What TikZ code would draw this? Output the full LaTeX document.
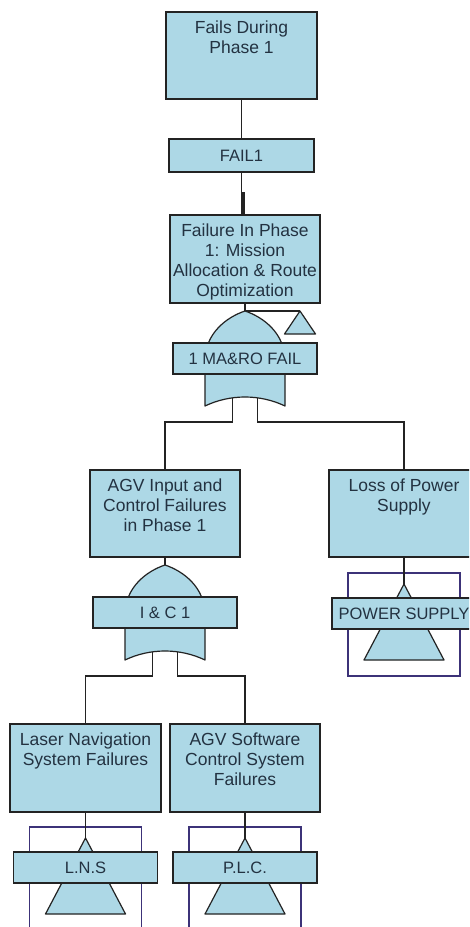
\documentclass[tikz,border=0pt]{standalone}
\usepackage{fontspec}
\setmainfont{Liberation Sans}
\usetikzlibrary{calc}

\definecolor{evfill}{RGB}{173,216,230}
\definecolor{evline}{RGB}{35,35,35}
\definecolor{evtext}{RGB}{35,50,65}
\definecolor{framecol}{RGB}{60,50,120}

\tikzset{
  evbox/.style={draw=evline, fill=evfill, line width=1.2pt, minimum width=150pt,
    minimum height=87pt, inner sep=0pt, outer sep=0pt, anchor=north},
  evtext/.style={anchor=north, inner sep=0pt, outer sep=0pt, align=center, text=evtext,
    font=\fontsize{17.5}{20}\selectfont},
  lblbox/.style={draw=evline, fill=evfill, line width=1.2pt, minimum width=144pt,
    minimum height=31pt, inner sep=0pt, outer sep=0pt, text=evtext,
    font=\fontsize{16.5}{18}\selectfont},
  wire/.style={draw=evline, line width=1.2pt},
  gateshape/.style={draw=evline, fill=evfill, line width=1.2pt, line join=round},
  frameline/.style={draw=framecol, line width=1.2pt},
  % OR gate with its label box; origin at the apex
  pics/orgate/.style={code={
    \path[gateshape] (-40,95) -- (-40,50) .. controls (-40,22) and (-18,6) .. (0,0)
      .. controls (18,6) and (40,22) .. (40,50) -- (40,95)
      .. controls (15,83) and (-15,83) .. (-40,95) -- cycle;
    \node[lblbox, anchor=north] (-lbl) at (0,32) {#1};
    \coordinate (-apex) at (0,0);
    \coordinate (-outL) at (-12.5,87);
    \coordinate (-outR) at (12.5,87);
    \coordinate (-bus) at (0,111);
  }},
  % transfer-in event inside its frame; origin at the frame's top centre
  pics/basicev/.style={code={
    \path[frameline] (-56,0) rectangle (56,103);
    \path[gateshape] (0,11) -- (40,87) -- (-40,87) -- cycle;
    \node[lblbox, anchor=north] (-lbl) at (0,25) {#1};
    \coordinate (-apex) at (0,11);
  }}
}

\begin{document}
\begin{tikzpicture}[x=1pt, y=-1pt]
  \clip (0,0) rectangle (469,927);
  \fill[white] (0,0) rectangle (469,927);

  % top event and its gate label
  \node[evbox, minimum width=151pt] (top) at (241.5,12) {};
  \node[evtext] (topT) at ($(top.north)+(0,8.5)$) {Fails During\\Phase 1};
  \node[lblbox, minimum width=145pt, minimum height=33pt, anchor=north,
        font=\fontsize{16.5}{18}\selectfont] (fail1) at (241.5,139) {FAIL1};

  % phase 1 event
  \node[evbox, minimum height=88pt] (fip) at (245,215) {};
  \node[evtext] (fipT) at ($(fip.north)+(0,8.5)$)
    {Failure In Phase\\1: Mission\\Allocation \& Route\\Optimization};

  \draw[wire] (top.south) -- (fail1.north);
  \draw[wire] (fail1.south) -- (fail1.south |- fip.north);
  \coordinate (bar) at (243.5,192);
  \draw[evline, line width=3.5pt] (bar) -- (bar |- fip.north);

  % second-level events
  \node[evbox] (agv) at (165,470) {};
  \node[evtext] (agvT) at ($(agv.north)+(0,8.5)$)
    {AGV Input and\\Control Failures\\in Phase 1};
  \node[evbox] (loss) at (404,470) {};
  \node[evtext] (lossT) at ($(loss.north)+(0,8.5)$) {Loss of Power\\Supply};

  % third-level events
  \node[evbox, minimum width=151pt, minimum height=88pt] (lns) at (85.5,724) {};
  \node[evtext] (lnsT) at ($(lns.north)+(0,8.5)$) {Laser Navigation\\System Failures};
  \node[evbox, minimum height=88pt] (sw) at (245,724) {};
  \node[evtext] (swT) at ($(sw.north)+(0,8.5)$) {AGV Software\\Control System\\Failures};

  % gate 1 and its transfer triangle
  \coordinate (xfer) at (300,311);
  \draw[wire] (fip.south) -- (245,311) -- (xfer);
  \pic (g1) at (245,311) {orgate={1 MA\&RO FAIL}};
  \draw[gateshape] (xfer) -- ++(15.5,23) -- ++(-31,0) -- cycle;
  \draw[wire] (g1-outL) -- (g1-outL |- g1-bus) -| (agv.north);
  \draw[wire] (g1-outR) -- (g1-outR |- g1-bus) -| (loss.north);

  % gate 2
  \draw[wire] (agv.south) -- (165,565);
  \pic (g2) at (165,565) {orgate={I \& C 1}};
  \draw[wire] (g2-outL) -- (g2-outL |- g2-bus) -| (lns.north);
  \draw[wire] (g2-outR) -- (g2-outR |- g2-bus) -| (sw.north);

  % transfer-in events
  \pic (ps) at (404,573) {basicev={POWER SUPPLY}};
  \draw[wire] (loss.south) -- (ps-apex);
  \pic (lnsev) at (85.5,827) {basicev={L.N.S}};
  \draw[wire] (lns.south) -- (lnsev-apex);
  \pic (plcev) at (245,827) {basicev={P.L.C.}};
  \draw[wire] (sw.south) -- (plcev-apex);
\end{tikzpicture}
\end{document}
